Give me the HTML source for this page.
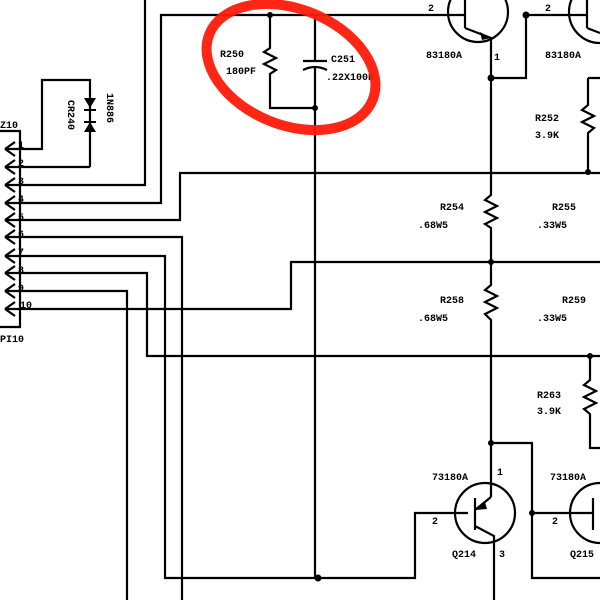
<!DOCTYPE html>
<html><head><meta charset="utf-8"><style>
html,body{margin:0;padding:0;background:#fff;width:600px;height:600px;overflow:hidden}
svg text{font-family:"Liberation Mono",monospace;font-weight:bold;font-size:10px;fill:#000}
</style></head><body>
<svg width="600" height="600" viewBox="0 0 600 600" xmlns="http://www.w3.org/2000/svg">
<rect width="600" height="600" fill="#fff"/>
<g stroke="#000" stroke-width="2.2" fill="none">
<path d="M0 131 H20 V327 H0"/>
<path d="M5 149 L15 142 M5 149 L15 156 M5 167 L15 160 M5 167 L15 174 M5 185 L15 178 M5 185 L15 192 M5 203 L15 196 M5 203 L15 210 M5 220 L15 213 M5 220 L15 227 M5 237 L15 230 M5 237 L15 244 M5 256 L15 249 M5 256 L15 263 M5 273 L15 266 M5 273 L15 280 M5 291 L15 284 M5 291 L15 298 M5 309 L15 302 M5 309 L15 316"/>
<path d="M5 149 H42 V80 H90 V167 M5 167 H90"/>
<path d="M5 185 H145 V0"/>
<path d="M5 203 H161 V15 H465"/>
<path d="M5 220 H180 V173 H600"/>
<path d="M5 237 H182 V600"/>
<path d="M5 256 H165 V578 H415 V513 H468"/>
<path d="M5 273 H147 V356 H600"/>
<path d="M5 291 H127 V600"/>
<path d="M5 309 H291 V262 H600"/>
<path d="M270 15 V48 L264 52 L276 58 L264 64 L276 70 L270 74 V108 H315"/>
<path d="M315 15 V60 M303 61 H327 M303 70 Q315 64 327 70 M315 66 V578"/>
<circle cx="478" cy="12" r="30"/>
<path d="M465 0 V28 M465 28 L491 38 V195 L485 200 L497 206 L485 212 L497 218 L485 224 L491 228 V285 L485 290 L497 296 L485 302 L497 308 L485 314 L491 320 V497"/>
<path d="M491 78 H526 V15 H587 M587 0 V28 M587 28 L600 33"/>
<circle cx="600" cy="12" r="31"/>
<path d="M588 78 H600 M588 78 V105 L582 110 L594 116 L582 122 L594 128 L588 133 V172"/>
<path d="M590 356 V380 L584 385 L596 391 L584 397 L596 403 L584 409 L590 414 V448 H600"/>
<circle cx="485" cy="513" r="30"/>
<path d="M475 498 V530 M475 510 L491 497 M475 526 L494 536 V600"/>
<path d="M491 443 H532 V578 H600 M532 513 H593"/>
<circle cx="600" cy="513" r="30"/>
<path d="M593 498 V530"/>
</g>
<g fill="#000">
<circle cx="270" cy="15" r="3"/><circle cx="315" cy="108" r="3"/><circle cx="491" cy="78" r="3.5"/><circle cx="526" cy="15" r="3.5"/>
<circle cx="588" cy="172" r="3"/><circle cx="491" cy="262" r="3"/><circle cx="590" cy="356" r="3"/><circle cx="491" cy="443" r="3"/>
<circle cx="532" cy="513" r="3"/><circle cx="318" cy="578" r="3.5"/>
<path d="M491 38 L480 32 L482 40 Z"/><path d="M475 510 L485 502 L487 509 Z"/>
<path d="M84 98 H96 L90 108 Z M84 132 H96 L90 122 Z"/>
</g>
<g stroke="#000" stroke-width="2"><path d="M84 110 H96 M84 122 H96"/></g>
<g>
<text x="0" y="128">Z10</text>
<text x="18" y="148" font-size="9">1</text><text x="18" y="166" font-size="9">2</text><text x="18" y="184" font-size="9">3</text><text x="18" y="202" font-size="9">4</text><text x="18" y="220" font-size="9">5</text><text x="18" y="237" font-size="9">6</text><text x="18" y="255" font-size="9">7</text><text x="18" y="273" font-size="9">8</text><text x="18" y="291" font-size="9">9</text><text x="20" y="308" font-size="9">10</text>
<text x="0" y="342">PI10</text>
<text transform="translate(68,100) rotate(90)" font-size="9">CR240</text>
<text transform="translate(107,93) rotate(90)" font-size="9">1N886</text>
<text x="220" y="57" font-size="9">R250</text><text x="226" y="74" font-size="9">180PF</text>
<text x="331" y="62" font-size="9">C251</text><text x="326" y="80" font-size="9">.22X100N</text>
<text x="428" y="11">2</text><text x="545" y="11">2</text>
<text x="426" y="58" font-size="9">83180A</text><text x="494" y="60">1</text><text x="545" y="58" font-size="9">83180A</text>
<text x="535" y="121" font-size="9">R252</text><text x="535" y="138" font-size="9">3.9K</text>
<text x="440" y="210" font-size="9">R254</text><text x="418" y="228" font-size="9">.68W5</text>
<text x="552" y="210" font-size="9">R255</text><text x="537" y="228" font-size="9">.33W5</text>
<text x="440" y="303" font-size="9">R258</text><text x="418" y="321" font-size="9">.68W5</text>
<text x="562" y="303" font-size="9">R259</text><text x="537" y="321" font-size="9">.33W5</text>
<text x="537" y="398" font-size="9">R263</text><text x="537" y="414" font-size="9">3.9K</text>
<text x="432" y="480" font-size="9">73180A</text><text x="497" y="475">1</text>
<text x="432" y="524">2</text><text x="452" y="557" font-size="9">Q214</text><text x="499" y="557">3</text>
<text x="550" y="480" font-size="9">73180A</text><text x="552" y="524">2</text><text x="570" y="557" font-size="9">Q215</text>
</g>
<ellipse cx="291" cy="67" rx="88" ry="58" transform="rotate(22 291 67)" fill="none" stroke="#ff1a0a" stroke-width="10" opacity="0.95"/>
</svg>
</body></html>
